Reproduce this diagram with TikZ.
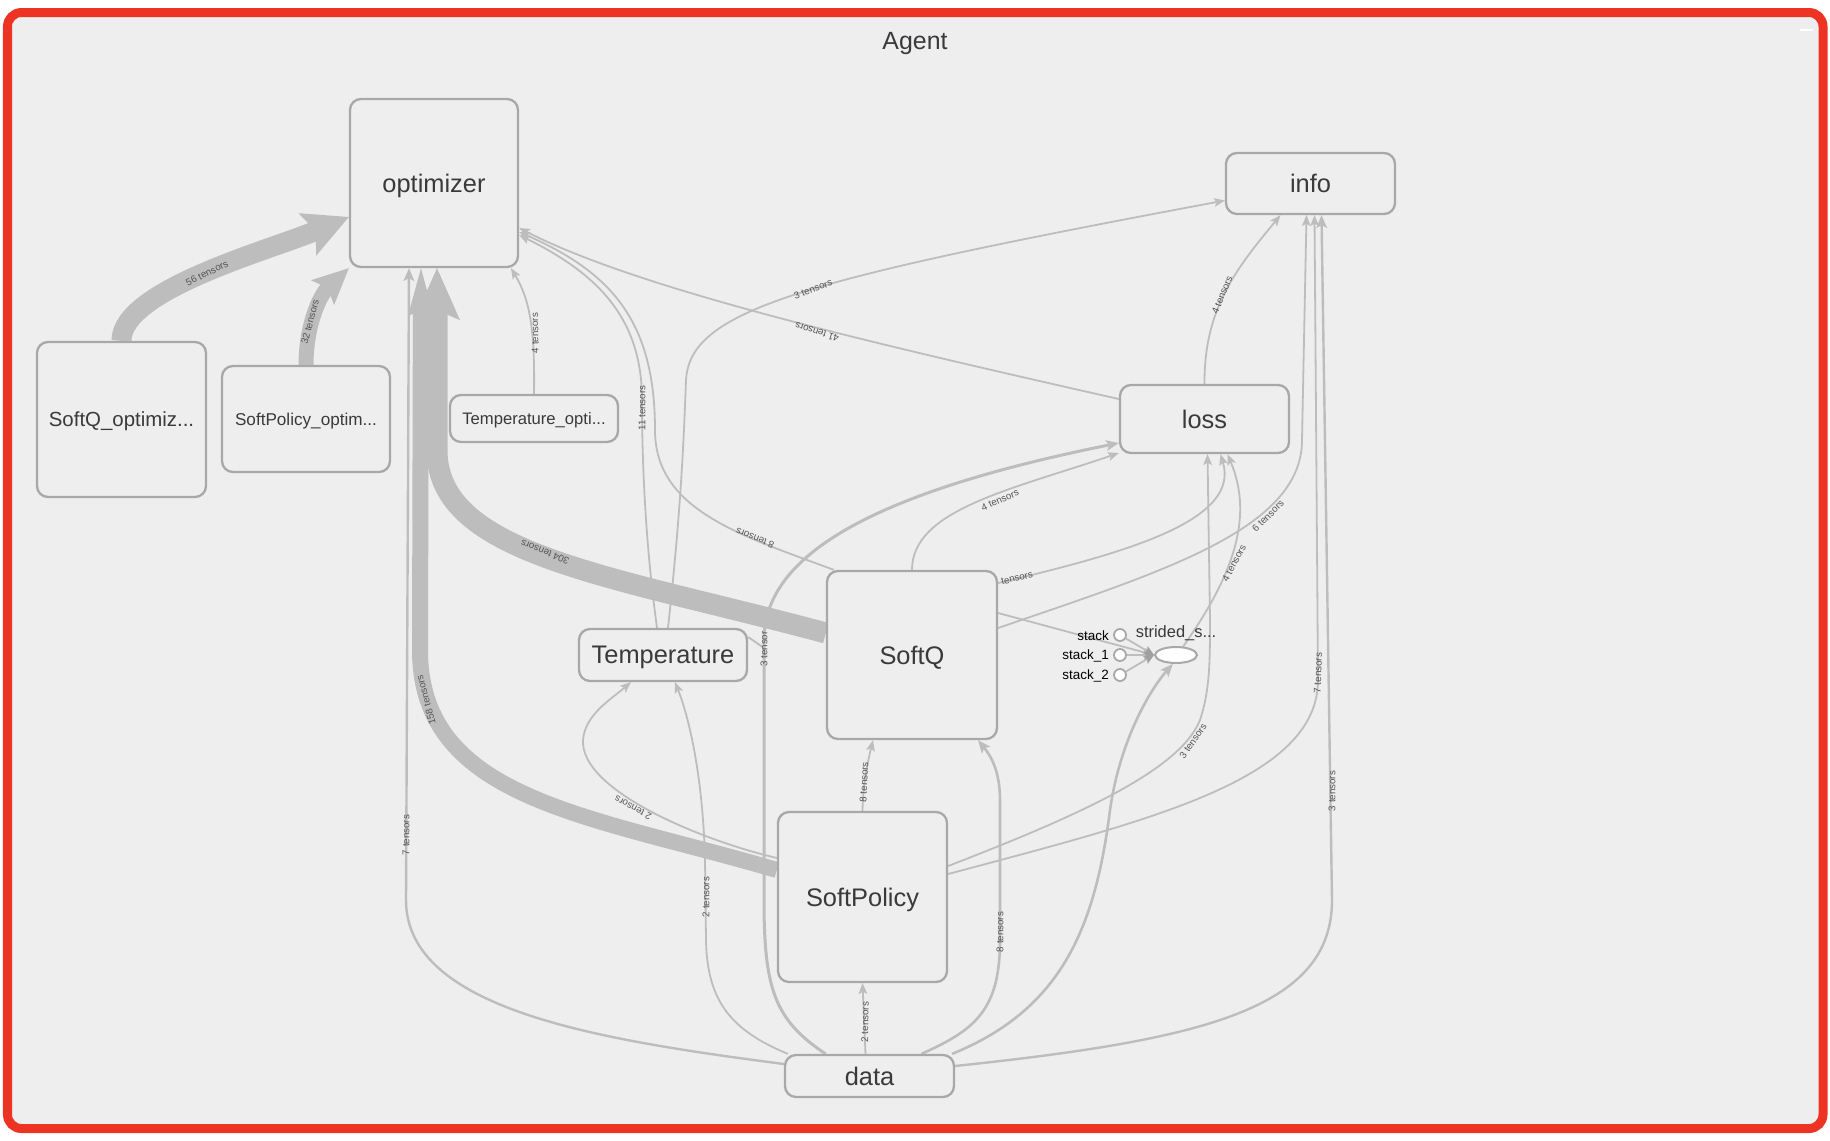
\documentclass[tikz,border=0pt]{standalone}
\usepackage{fontspec}
\setmainfont{Liberation Sans}
\usetikzlibrary{arrows.meta,shapes.geometric}
\pgfdeclarelayer{bg}
\pgfdeclarelayer{edges}
\pgfsetlayers{bg,edges,main}
\definecolor{bgc}{RGB}{238,238,238}
\definecolor{framec}{RGB}{237,51,36}
\definecolor{edgec}{RGB}{189,189,189}
\definecolor{nodeb}{RGB}{168,168,168}
\definecolor{nodet}{RGB}{58,58,58}
\definecolor{labt}{RGB}{85,85,85}
\definecolor{blobc}{RGB}{160,160,160}
\begin{document}
\begin{tikzpicture}[x=1bp,y=-1bp,
  op/.style={draw=nodeb, line width=2.3bp, fill=bgc, rounded corners=11bp, inner sep=0pt, text depth=0pt, text=nodet, font=\fontsize{25.5}{30}\selectfont},
  conn/.style={draw=edgec, line width=1.8bp, -{Stealth[length=11bp,width=9bp,inset=2.5bp,line width=0pt]}},
  mconn/.style={conn, line width=2.6bp, -{Stealth[length=13bp,width=11bp,inset=3bp,line width=0pt]}},
  elab/.style={text=labt, inner sep=0pt, font=\fontsize{9.8}{11}\selectfont},
  stk/.style={circle, draw=nodeb, line width=1.8bp, fill=white, minimum size=12bp, inner sep=0pt},
  stklab/.style={anchor=east, inner sep=0pt, text=black, font=\fontsize{13.5}{15}\selectfont},
  stkarrow/.style={draw=edgec, line width=1.8bp, -{Stealth[length=10bp,width=9bp,inset=2bp,line width=0pt,color=blobc]}}
]
\useasboundingbox (0,0) rectangle (1830,1140);
\begin{pgfonlayer}{bg}
  \fill[white] (0,0) rectangle (1830,1140);
  \draw[framec, line width=9bp, fill=bgc, rounded corners=14bp] (7.5,12.5) rectangle (1823,1128.5);
  \draw[white, line width=2bp] (1800,30) -- (1813,30);
\end{pgfonlayer}

% title
\node[text=nodet, text depth=0pt, font=\fontsize{25}{30}\selectfont] (title) at (915,41) {Agent};

% nodes
\node[op, minimum width=168bp, minimum height=168bp] (opt) at (434,183) {optimizer};
\node[op, minimum width=169bp, minimum height=61bp] (info) at (1310.5,183.5) {info};
\node[op, minimum width=169bp, minimum height=155bp, font=\fontsize{20.5}{24}\selectfont] (sqopt) at (121.5,419.5) {SoftQ\_optimiz...};
\node[op, minimum width=168bp, minimum height=106bp, font=\fontsize{17.2}{20}\selectfont] (spopt) at (306,419) {SoftPolicy\_optim...};
\node[op, minimum width=168bp, minimum height=47bp, font=\fontsize{16.7}{20}\selectfont] (tmpopt) at (534,418.5) {Temperature\_opti...};
\node[op, minimum width=169bp, minimum height=68bp] (loss) at (1204.5,419) {loss};
\node[op, minimum width=168bp, minimum height=52bp] (temp) at (663,655) {Temperature};
\node[op, minimum width=170bp, minimum height=168bp] (softq) at (912,655) {SoftQ};
\node[op, minimum width=169bp, minimum height=170bp] (softp) at (862.5,897) {SoftPolicy};
\node[op, minimum width=169bp, minimum height=42bp] (data) at (869.5,1076) {data};
\node[ellipse, draw=nodeb, line width=2bp, fill=white, minimum width=42bp, minimum height=16bp, inner sep=0pt] (strided) at (1176,655) {};
\node[text=nodet, inner sep=0pt, font=\fontsize{16.5}{19}\selectfont] (stridedlab) at (1176,633) {strided\_s...};
\node[stk] (s0) at (1120,635) {};
\node[stk] (s1) at (1120,655) {};
\node[stk] (s2) at (1120,675) {};
\node[stklab] (s0lab) at (1109,636) {stack};
\node[stklab] (s1lab) at (1109,656) {stack\_1};
\node[stklab] (s2lab) at (1109,676) {stack\_2};

\begin{pgfonlayer}{edges}
  % thick bands
  \draw[draw=edgec, line width=20bp, -{Stealth[length=45bp,width=46bp,inset=9bp,line width=0pt]}]
    (sqopt.north) .. controls (121,290) and (270,250) .. ([yshift=-34bp]opt.west);
  \draw[draw=edgec, line width=15bp, -{Stealth[length=36bp,width=34bp,inset=7bp,line width=0pt]}]
    (spopt.north) .. controls (306,325) and (320,295) .. (opt.south west);
  \draw[draw=edgec, line width=16bp, -{Stealth[length=48bp,width=26bp,inset=6bp,line width=0pt]}]
    ([yshift=27bp]softp.west) .. controls (590,815) and (420,800) .. (420,650) -- ([xshift=-13bp]opt.south);
  \draw[draw=edgec, line width=21bp, -{Stealth[length=52bp,width=46bp,inset=10bp,line width=0pt]}]
    ([yshift=22bp]softq.west) .. controls (610,575) and (437,555) .. (437,450) -- ([xshift=3bp]opt.south);

  % edges into optimizer
  \draw[conn] (tmpopt.north) .. controls (535,330) and (530,300) .. ([xshift=77bp]opt.south);
  \draw[conn] ([xshift=-6bp]temp.north) .. controls (645,540) and (642,460) .. (642,400)
      .. controls (642,320) and (600,275) .. ([yshift=-52bp]opt.east);
  \draw[conn] ([xshift=8bp]softq.north west) .. controls (740,535) and (655,510) .. (655,430)
      .. controls (655,320) and (610,272) .. ([yshift=-49bp]opt.east);
  \draw[conn] ([yshift=20bp]loss.west) .. controls (880,345) and (640,290) .. ([yshift=-45bp]opt.east);
  \draw[mconn, line width=2.4bp] ([yshift=12bp]data.west) .. controls (600,1040) and (406,1010) .. (406,900)
      -- ([xshift=-25bp]opt.south);

  % edges into info
  \draw[conn] ([xshift=5bp]temp.north) .. controls (682,500) and (684,430) .. (686,380)
      .. controls (690,310) and (800,280) .. ([yshift=-17bp]info.west);
  \draw[conn] (loss.north) .. controls (1204,310) and (1235,270) .. ([xshift=-30bp]info.south);
  \draw[conn] ([yshift=27bp]softq.east) .. controls (1160,572) and (1302,530) .. (1302,440)
      -- ([xshift=-4bp]info.south);
  \draw[conn] ([yshift=23bp]softp.east) .. controls (1150,820) and (1318,780) .. (1318,680)
      -- ([xshift=4bp]info.south);
  \draw[mconn, line width=2.4bp] ([yshift=10bp]data.east) .. controls (1200,1040) and (1332,1010) .. (1332,900)
      -- ([xshift=11bp]info.south);

  % edges into loss
  \draw[mconn, line width=3bp] ([xshift=-44bp]data.north) .. controls (775,1020) and (764,990) .. (764,900)
      -- (764,640) coordinate (j1) .. controls (764,560) and (860,495) .. ([yshift=-24bp]loss.west);
  \draw[draw=edgec, line width=1.8bp] ([yshift=18bp]temp.east) -- ([yshift=-8bp]j1);
  \draw[conn] (softq.north) .. controls (912,510) and (1010,490) .. ([yshift=-34bp]loss.west);
  \draw[conn] ([yshift=72bp]softq.east) .. controls (1130,552) and (1240,520) .. ([xshift=16bp]loss.south);
  \draw[conn] (strided.50) .. controls (1230,580) and (1255,520) .. ([xshift=23bp]loss.south);
  \draw[conn] ([yshift=31bp]softp.east) .. controls (1080,815) and (1180,770) .. (1200,720)
      .. controls (1210,690) and (1210,660) .. (1210,620) -- ([xshift=3bp]loss.south);

  % strided slice inputs
  \draw[stkarrow] ([yshift=42bp]softq.east) -- (strided.west);
  \draw[stkarrow] (s0) -- (strided.west);
  \draw[stkarrow] (s1) -- (strided.west);
  \draw[stkarrow] (s2) -- (strided.west);
  \draw[mconn] ([xshift=-3bp]data.north east) .. controls (1060,1010) and (1095,930) .. (1110,810)
      .. controls (1120,740) and (1150,690) .. (strided.250);

  % lower edges
  \draw[conn] ([xshift=-4bp]data.north) -- (softp.south);
  \draw[conn] (softp.north) .. controls (863,785) and (867,765) .. ([xshift=-39bp]softq.south);
  \draw[mconn] ([xshift=52bp]data.north) .. controls (975,1030) and (1000,1010) .. (1000,940)
      -- (1000,800) .. controls (1000,770) and (990,755) .. ([xshift=66bp]softq.south);
  \draw[conn] ([xshift=4bp]data.north west) .. controls (730,1030) and (707,1000) .. (706,940)
      -- (705,860) .. controls (703,780) and (690,720) .. ([xshift=12bp]temp.south);
  \draw[conn] ([yshift=39bp]softp.west) .. controls (700,840) and (580,790) .. (583,740)
      .. controls (585,715) and (610,700) .. ([xshift=-32bp]temp.south);
\end{pgfonlayer}

% edge labels
\node[elab, rotate=26] (l56) at (207,273) {56 tensors};
\node[elab, rotate=75] (l32) at (310,322) {32 tensors};
\node[elab, rotate=91] (l4a) at (535,333) {4 tensors};
\node[elab, rotate=90] (l11) at (642,408) {11 tensors};
\node[elab, rotate=159] (l8a) at (755,538) {8 tensors};
\node[elab, rotate=162] (l41) at (817,332) {41 tensors};
\node[elab, rotate=20] (l3a) at (813,289) {3 tensors};
\node[elab, rotate=158] (l304) at (545,552) {304 tensors};
\node[elab, rotate=105] (l158) at (426,700) {158 tensors};
\node[elab, rotate=90] (l7a) at (406,835) {7 tensors};
\node[elab, rotate=90] (l2a) at (706,897) {2 tensors};
\node[elab, rotate=90] (l3b) at (764,649) {3 tensor};
\node[elab, rotate=87] (l8b) at (864,782) {8 tensors};
\node[elab, rotate=89] (l2b) at (865,1022) {2 tensors};
\node[elab, rotate=90] (l8c) at (1000,932) {8 tensors};
\node[elab, rotate=152] (l2c) at (633,808) {2 tensors};
\node[elab, rotate=24] (l4b) at (1000,500) {4 tensors};
\node[elab, rotate=14] (ltens) at (1017,578) {tensors};
\node[elab, rotate=45] (l6) at (1268,516) {6 tensors};
\node[elab, rotate=62] (l4c) at (1234,563) {4 tensors};
\node[elab, rotate=55] (l3c) at (1193,741) {3 tensors};
\node[elab, rotate=88] (l7b) at (1318,673) {7 tensors};
\node[elab, rotate=90] (l3d) at (1332,791) {3 tensors};
\node[elab, rotate=68] (l4d) at (1222,295) {4 tensors};
\end{tikzpicture}
\end{document}
